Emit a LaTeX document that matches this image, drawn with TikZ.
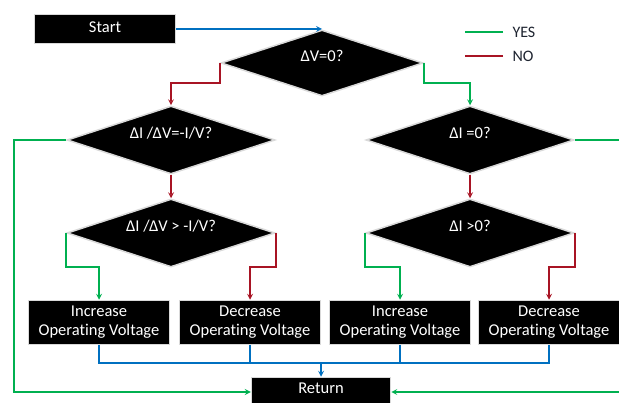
\documentclass[tikz,border=0pt]{standalone}
\usepackage{fontspec}
\setmainfont{Carlito}[Ligatures=CommonOff]
\usetikzlibrary{shapes.geometric, arrows, positioning}
\definecolor{yesgreen}{RGB}{0,176,80}
\definecolor{nored}{RGB}{168,20,36}
\definecolor{flowblue}{RGB}{0,112,192}
\definecolor{legendtext}{RGB}{30,36,48}
\tikzstyle{startstop} = [rectangle, minimum width=141pt, minimum height=29pt, text depth=3pt, text centered, draw=gray!30, line width=1.5pt, fill=black, text=white, font=\fontsize{16.5}{19}\selectfont]
\tikzstyle{process} = [rectangle, minimum width=141pt, minimum height=44pt, align=center, draw=gray!30, line width=1.5pt, fill=black, text=white, font=\fontsize{16.5}{19}\selectfont]
\tikzstyle{decision} = [diamond, aspect=3, inner sep=0pt, minimum width=208pt, minimum height=68pt, text depth=14pt, draw=gray!30, line width=1.5pt, fill=black, text=white, font=\fontsize{16.5}{19}\selectfont]
\tikzstyle{legend} = [anchor=west, text=legendtext, font=\fontsize{16}{19}\selectfont]
\tikzstyle{arrow} = [line width=1.6pt,->,>=stealth]
\tikzstyle{line} = [line width=1.6pt]

\begin{document}
\begin{tikzpicture}[x=1pt, y=-1pt, node distance=93pt]
\useasboundingbox (0,0) rectangle (619,403);
\clip (0,0) rectangle (619,403);

\node (start) [startstop] at (105,29) {Start};

\node (dv) [decision, minimum width=202pt, minimum height=66pt] at (322,63) {ΔV=0?};

\node (dsl) [decision, below of=dv, xshift=-151pt, yshift=16pt] {ΔI /ΔV=-I/V?};

\node (di) [decision, below of=dv, xshift=148pt, yshift=16pt] {ΔI =0?};

\node (dsg) [decision, below of=dsl] {ΔI /ΔV > -I/V?};

\node (dig) [decision, below of=di] {ΔI >0?};

\node (inc1) [process, below of=dsg, xshift=-72pt, yshift=3.5pt] {Increase\\Operating Voltage};

\node (dec1) [process, below of=dsg, xshift=79pt, yshift=3.5pt] {Decrease\\Operating Voltage};

\node (inc2) [process, below of=dig, xshift=-70pt, yshift=3.5pt] {Increase\\Operating Voltage};

\node (dec2) [process, below of=dig, xshift=79pt, yshift=3.5pt] {Decrease\\Operating Voltage};

\node (ret) [startstop, minimum width=139pt, text depth=8pt] at (321,392) {Return};

% legend
\node (yes) [legend] at (509,32) {YES};
\node (no) [legend] at (509,56) {NO};
\draw [line, yesgreen] ([xshift=-6pt]yes.west) -- ++(-38,0);
\draw [line, nored] ([xshift=-6pt]no.west) -- ++(-38,0);

\draw [arrow, flowblue] (start.east) -- (start.east -| dv.north);

\draw [arrow, nored] (dv.west) -- ++(0,20) -| (dsl.north);

\draw [arrow, yesgreen] (dv.east) -- ++(0,20) -| (di.north);

\draw [arrow, nored] (dsl.south) -- (dsg.north);

\draw [arrow, nored] (di.south) -- (dig.north);

\draw [arrow, yesgreen] (dsl.west) -- ++(-52,0) |- (ret);

\draw [arrow, yesgreen] (di.east) -- ++(48,0) |- (ret);

\draw [arrow, yesgreen] (dsg.west) -- ++(0,34) -| (inc1.north);

\draw [arrow, nored] (dsg.east) -- ++(0,34) -| (dec1.north);

\draw [arrow, yesgreen] (dig.west) -- ++(0,34) -| (inc2.north);

\draw [arrow, nored] (dig.east) -- ++(0,34) -| (dec2.north);

\draw [line, flowblue] (inc1.south) -- ++(0,18) -| (dec2.south);
\draw [line, flowblue] (dec1.south) -- ++(0,18) coordinate (merge);
\draw [line, flowblue] (inc2.south) -- ++(0,18);

\draw [arrow, flowblue] (merge -| ret.north) -- (ret.north);

\end{tikzpicture}
\end{document}
